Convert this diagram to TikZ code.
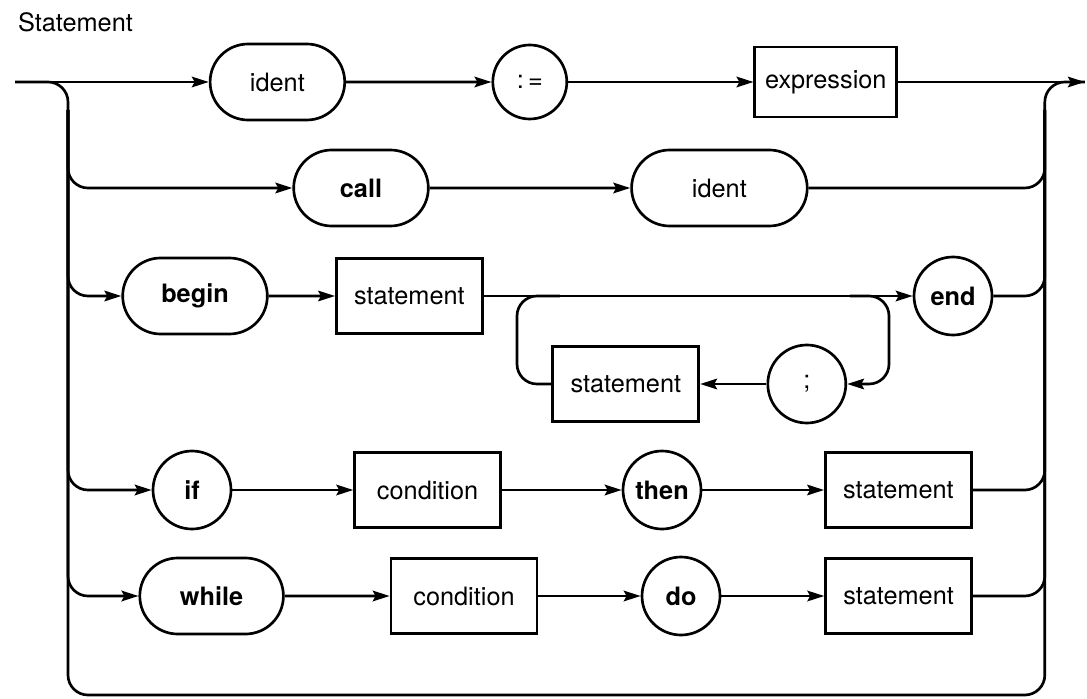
\documentclass[tikz,border=0pt]{standalone}
\usepackage{fontspec}
\setmainfont{TeX Gyre Heros}
\usetikzlibrary{arrows.meta, positioning, shapes.misc}

\begin{document}
\begin{tikzpicture}[auto, node distance=2cm, >={Stealth[length=12pt, width=7.5pt, inset=2pt]}, line width=1.9pt, font=\fontsize{18}{21}\selectfont]
        % Estilos para cajas, palabras clave y simbolos
        \tikzstyle{block} = [draw, rectangle, minimum height=1.875cm, minimum width=3.65cm]
        \tikzstyle{word} = [draw, rounded rectangle, minimum height=1.9cm, minimum width=3.6cm]
        \tikzstyle{symb} = [draw, circle, inner sep=1pt, minimum size=1.95cm]

        \useasboundingbox (0,0) rectangle (27.175,-17.475);

        % Nodes
        \node at (0.3,-0.8) [anchor=base west] (title) {Statement};
        \node at (0.375,-2.05) [coordinate] (input){};
        \node [word, on grid, right=6.56cm of input, anchor=center] (ident1) {ident};
        \node [symb, on grid, right=6.31cm of ident1, minimum size=1.85cm] (assign) {:\,=};
        \node [block, on grid, right=7.4cm of assign, minimum height=1.75cm, minimum width=3.55cm] (expr) {expression};
        \node [coordinate, on grid, right=6.475cm of expr] (output){};
        \node [coordinate, on grid, right=1.325cm of input] (split){};
        \node [coordinate, on grid, below=0.7cm of split] (splitDown){};
        \node [coordinate, on grid, below=15.325cm of split] (leftBottom){};
        \node [coordinate, on grid, right=5.475cm of expr] (join){};
        \node [coordinate, on grid, below=0.7cm of join] (joinDown){};
        \node [coordinate, on grid, below=15.325cm of join] (rightBottom){};

        \node [word, on grid, below right=2.65cm and 7.325cm of split, anchor=center] (call) {\textbf{call}};
        \node [word, on grid, right=8.96cm of call, minimum width=4.625cm] (ident2) {ident};

        \node [word, on grid, below right=5.35cm and 3.175cm of split, anchor=center, minimum width=3.85cm] (begin) {\textbf{begin}};
        \node [block, on grid, right=5.36cm of begin] (stmt1) {statement};
        \node [symb, on grid, right=13.59cm of stmt1] (endk) {\textbf{end}};
        \node [block, on grid, below right=2.2cm and 5.41cm of stmt1] (stmt2) {statement};
        \node [symb, on grid, right=4.525cm of stmt2] (semi) {;};
        \node [coordinate, on grid, right=2.69cm of stmt1] (loopL){};
        \node [coordinate, on grid, right=3.76cm of stmt1] (loopB){};
        \node [coordinate, on grid, right=11.01cm of stmt1] (loopA){};
        \node [coordinate, on grid, right=11.99cm of stmt1] (loopR){};

        \node [symb, on grid, below right=10.2cm and 3.1cm of split, anchor=center] (ifk) {\textbf{if}};
        \node [block, on grid, right=5.89cm of ifk] (cond1) {condition};
        \node [symb, on grid, right=5.86cm of cond1] (thenk) {\textbf{then}};
        \node [block, on grid, right=5.91cm of thenk] (stmt3) {statement};

        \node [word, on grid, below right=12.85cm and 3.59cm of split, anchor=center, minimum width=3.825cm] (whilek) {\textbf{while}};
        \node [block, on grid, right=6.31cm of whilek] (cond2) {condition};
        \node [symb, on grid, right=5.425cm of cond2] (dok) {\textbf{do}};
        \node [block, on grid, right=5.44cm of dok] (stmt4) {statement};

        % Lines
        \draw [->] (input) -- (ident1);
        \draw [->] (ident1) -- (assign);
        \draw [->] (assign) -- (expr);
        \draw [->] (expr) -- (output);
        \draw [rounded corners=0.5cm] (input) -| (leftBottom) -- (rightBottom) |- (output);

        \draw [->, rounded corners=0.5cm] (splitDown) |- (call);
        \draw [->, rounded corners=0.5cm] (splitDown) |- (begin);
        \draw [->, rounded corners=0.5cm] (splitDown) |- (ifk);
        \draw [->, rounded corners=0.5cm] (splitDown) |- (whilek);

        \draw [->] (call) -- (ident2);
        \draw [rounded corners=0.5cm] (ident2) -| (joinDown);

        \draw [->] (begin) -- (stmt1);
        \draw [->] (stmt1) -- (endk);
        \draw [->, rounded corners=0.5cm] (loopA) -- (loopR) |- (semi);
        \draw [->] (semi) -- (stmt2);
        \draw [rounded corners=0.5cm] (stmt2) -| (loopL) -- (loopB);
        \draw [rounded corners=0.5cm] (endk) -| (joinDown);

        \draw [->] (ifk) -- (cond1);
        \draw [->] (cond1) -- (thenk);
        \draw [->] (thenk) -- (stmt3);
        \draw [rounded corners=0.5cm] (stmt3) -| (joinDown);

        \draw [->] (whilek) -- (cond2);
        \draw [->] (cond2) -- (dok);
        \draw [->] (dok) -- (stmt4);
        \draw [rounded corners=0.5cm] (stmt4) -| (joinDown);

      \end{tikzpicture}
\end{document}
